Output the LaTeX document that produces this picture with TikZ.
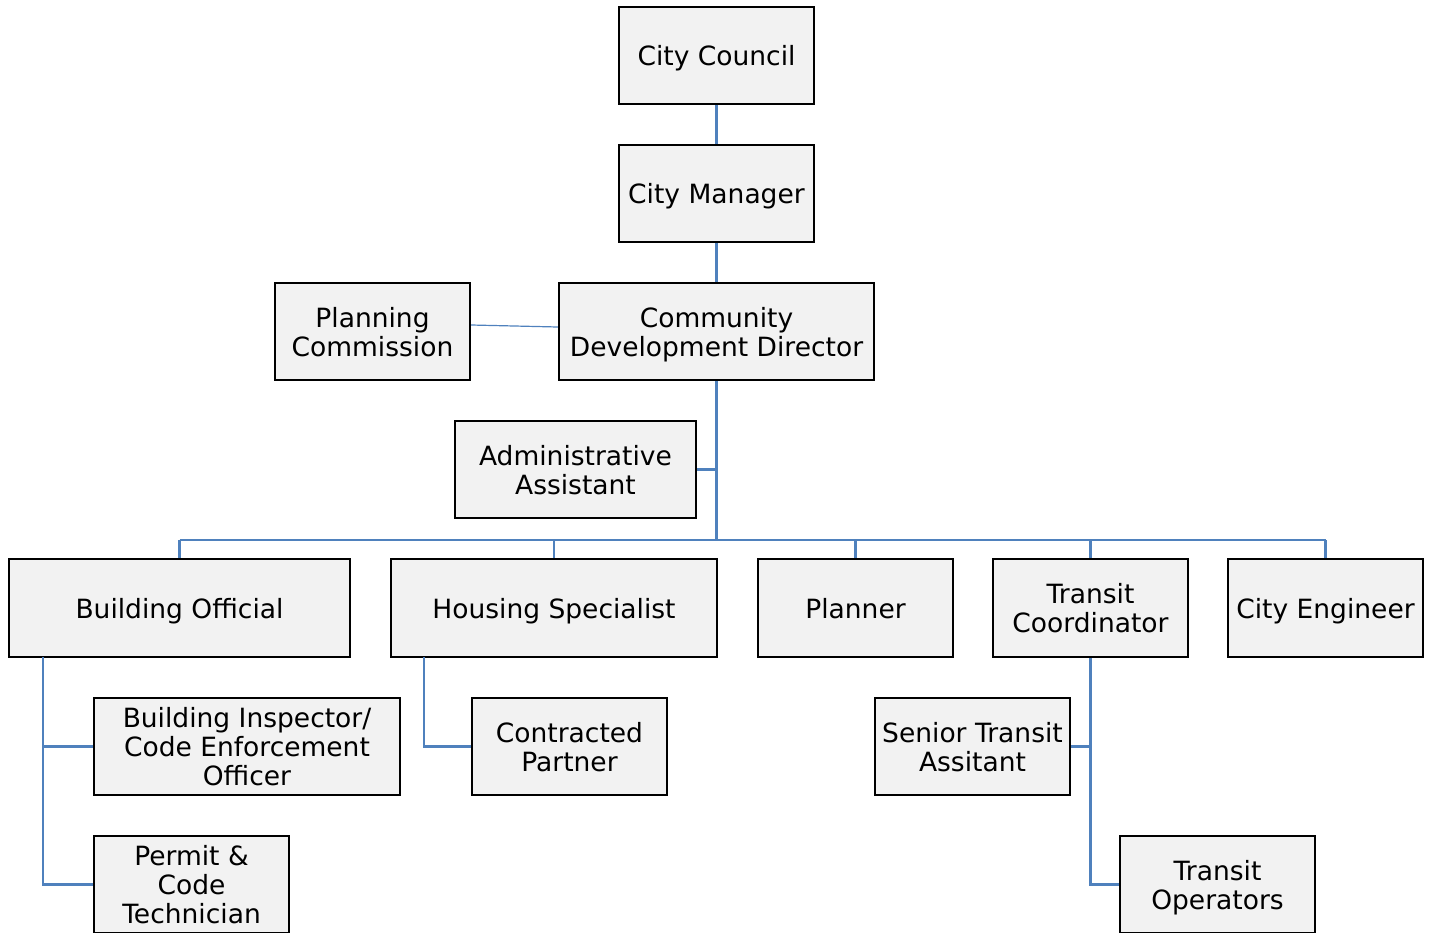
\documentclass[tikz,border=0pt]{standalone}
\usepackage{fontspec}
\setmainfont{DejaVu Sans}
\definecolor{boxfill}{RGB}{242,242,242}
\definecolor{linkblue}{RGB}{79,129,189}
\tikzset{
  orgbox/.style={draw=black, fill=boxfill, line width=2.4pt, inner sep=0pt, align=center,
    text depth=0pt, font=\fontsize{26.5}{29}\selectfont},
  link/.style={draw=linkblue, line width=2.5pt},
  thinlink/.style={draw=linkblue, line width=1.2pt}
}
\begin{document}
\begin{tikzpicture}[x=1pt,y=-1pt]
\useasboundingbox (0,0) rectangle (1430,932);
% nodes
\node[orgbox, minimum width=195pt, minimum height=97pt] (cc) at (716.5,55.5) {City Council};
\node[orgbox, minimum width=195pt, minimum height=97pt] (cm) at (716.5,193.5) {City Manager};
\node[orgbox, minimum width=315pt, minimum height=97pt] (cdd) at (716.5,331.5) {Community\\Development Director};
\node[orgbox, minimum width=195pt, minimum height=97pt] (pc) at (372.5,331.5) {Planning\\Commission};
\node[orgbox, minimum width=241pt, minimum height=97pt] (aa) at (575.5,469.5) {Administrative\\Assistant};
\node[orgbox, minimum width=341pt, minimum height=98pt] (bo) at (179.5,608) {Building Official};
\node[orgbox, minimum width=326pt, minimum height=98pt] (hs) at (554,608) {Housing Specialist};
\node[orgbox, minimum width=195pt, minimum height=98pt] (pl) at (855.5,608) {Planner};
\node[orgbox, minimum width=195pt, minimum height=98pt] (tc) at (1090.5,608) {Transit\\Coordinator};
\node[orgbox, minimum width=195pt, minimum height=98pt] (ce) at (1325.5,608) {City Engineer};
\node[orgbox, minimum width=306pt, minimum height=97pt] (bi) at (247,746.5) {Building Inspector/\\Code Enforcement\\Officer};
\node[orgbox, minimum width=195pt, minimum height=97pt] (cp) at (569.5,746.5) {Contracted\\Partner};
\node[orgbox, minimum width=195pt, minimum height=97pt] (sta) at (972.5,746.5) {Senior Transit\\Assitant};
\node[orgbox, minimum width=195pt, minimum height=97pt] (pct) at (191.5,884.5) {Permit \&\\Code\\Technician};
\node[orgbox, minimum width=195pt, minimum height=97pt] (to) at (1217.5,884.5) {Transit\\Operators};
% helper coordinates
\coordinate (bus) at (716.5,540);
\coordinate (bol) at (43,657);
\coordinate (hsl) at (424,657);
% connectors
\draw[link] (cc) -- (cm);
\draw[link] (cm) -- (cdd);
\draw[link] (cdd.south) -- (bus);
\draw[link] (aa.east) -- (aa.east -| bus);
\draw[link] (bo.north |- bus) -- (ce.north |- bus);
\draw[link] (bo.north) -- (bo.north |- bus);
\draw[link] (hs.north) -- (hs.north |- bus);
\draw[link] (pl.north) -- (pl.north |- bus);
\draw[link] (tc.north) -- (tc.north |- bus);
\draw[link] (ce.north) -- (ce.north |- bus);
\draw[thinlink] ([yshift=6.5pt]pc.east) -- ([yshift=4.5pt]cdd.west);
\draw[link] (bol) |- (pct.west);
\draw[link] (bi.west) -- (bi.west -| bol);
\draw[link] (hsl) |- (cp.west);
\draw[link] (tc.south) |- (to.west);
\draw[link] (sta.east) -- (sta.east -| tc.south);
\end{tikzpicture}
\end{document}
